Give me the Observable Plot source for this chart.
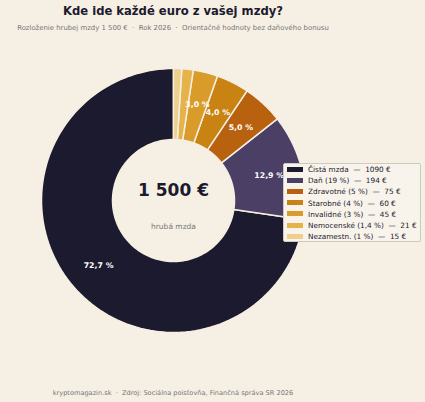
<!DOCTYPE html>
<html><head><meta charset="utf-8">
<script src="https://cdn.jsdelivr.net/npm/d3@7"></script>
<script src="https://cdn.jsdelivr.net/npm/@observablehq/plot@0.6"></script>
<style>
html,body{margin:0;padding:0;background:#f5efe4;font-family:"DejaVu Sans",sans-serif;}
#wrap{position:relative;width:425px;height:402px;overflow:hidden;}
.title{width:346px;text-align:center;font-weight:bold;font-size:11.6px;line-height:22px;height:20px;color:#1c1a2e;}
.sub{width:346px;text-align:center;font-size:6.9px;line-height:16px;height:16px;color:#777;}
.cap{width:346px;text-align:center;font-size:6.6px;line-height:16px;height:16px;color:#777;}
#legend{position:absolute;left:283px;top:163px;width:136px;height:77px;border:1px solid #cfcac0;border-radius:2px;background:#f8f4ec;}
.row{position:absolute;left:3px;height:11px;font-size:7.3px;line-height:11px;color:#1c1a2e;white-space:nowrap;}
.sw{display:inline-block;width:16px;height:5px;vertical-align:middle;margin-right:5px;margin-top:-2px;}
</style></head>
<body><div id="wrap">
<div class="title">Kde ide každé euro z vašej mzdy?</div>
<div class="sub">Rozloženie hrubej mzdy 1 500 € &nbsp;·&nbsp; Rok 2026 &nbsp;·&nbsp; Orientačné hodnoty bez daňového bonusu</div>
<div id="chart"></div>
<div class="cap">kryptomagazin.sk &nbsp;·&nbsp; Zdroj: Sociálna poisťovňa, Finančná správa SR 2026</div>
<div id="legend"></div>
</div>
<script>
const names = ["Čistá mzda", "Daň", "Zdravotné", "Starobné", "Invalidné", "Nemocenské", "Nezamestn."];
const legendNames = ["Čistá mzda", "Daň (19 %)", "Zdravotné (5 %)", "Starobné (4 %)", "Invalidné (3 %)", "Nemocenské (1,4 %)", "Nezamestn. (1 %)"];
const values = [1090, 194, 75, 60, 45, 21, 15];
const colors = ["#1c1a2e", "#4b3f66", "#b8620f", "#c98312", "#d99b2a", "#e6b24a", "#eecf8c"];
const centerLabel = "hrubá mzda";

const total = d3.sum(values);
const R = 132, rIn = 61 / R, labelR = 99 / R;
const W = 425, H = 349, cx = 173, cy = 164;

const arcs = d3.pie().sort(null).startAngle(0).endAngle(-2 * Math.PI)(values);
const pts = [];
const labels = [];
arcs.forEach((a, i) => {
  const n = 120;
  for (let k = 0; k <= n; k++) {
    const t = a.startAngle + (a.endAngle - a.startAngle) * k / n;
    pts.push({name: names[i], x: Math.sin(t), y: Math.cos(t)});
  }
  for (let k = n; k >= 0; k--) {
    const t = a.startAngle + (a.endAngle - a.startAngle) * k / n;
    pts.push({name: names[i], x: rIn * Math.sin(t), y: rIn * Math.cos(t)});
  }
  const pct = values[i] / total * 100;
  const m = (a.startAngle + a.endAngle) / 2;
  if (pct >= 2) labels.push({x: labelR * Math.sin(m), y: labelR * Math.cos(m), text: pct.toFixed(1).replace(".", ",") + " %"});
});

const fmt = v => d3.format(",")(v).replace(/,/g, " ") + " €";

const chart = Plot.plot({
  width: W, height: H,
  margin: 0,
  style: {background: "transparent", fontFamily: "DejaVu Sans"},
  x: {domain: [-cx / R, (W - cx) / R], axis: null},
  y: {domain: [-(H - cy) / R, cy / R], axis: null},
  color: {domain: names, range: colors},
  marks: [
    Plot.line(pts, {x: "x", y: "y", z: "name", fill: "name", stroke: "#f5efe4", strokeWidth: 1.5, curve: "linear-closed"}),
    Plot.text(labels, {x: "x", y: "y", text: "text", fill: "white", fontWeight: "bold", fontSize: 7.8}),
    Plot.text([fmt(total)], {x: () => 0, y: () => 0, text: d => d, dy: -10, fontSize: 17, fontWeight: "bold", fill: "#1c1a2e"}),
    Plot.text([centerLabel], {x: () => 0, y: () => 0, text: d => d, dy: 26, fontSize: 7.5, fill: "#777"})
  ]
});
document.getElementById("chart").appendChild(chart);

const leg = d3.select("#legend");
legendNames.forEach((n, i) => {
  const row = leg.append("div").attr("class", "row").style("top", (0 + i * 11.2) + "px");
  row.append("span").attr("class", "sw").style("background", colors[i]);
  row.append("span").text(n + "  —  " + values[i] + " €").style("white-space", "pre");
});
</script>
</body></html>
